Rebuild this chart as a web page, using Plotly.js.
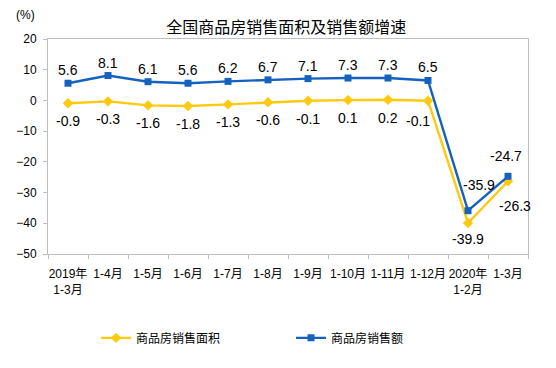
<!DOCTYPE html>
<html><head><meta charset="utf-8">
<script src="https://cdn.plot.ly/plotly-3.0.1.min.js"></script>
<style>body{margin:0;background:#fff}#c{width:556px;height:368px}</style>
</head><body><div id="c"></div>
<script>
const categories = ["2019年<br>1-3月","1-4月","1-5月","1-6月","1-7月","1-8月","1-9月","1-10月","1-11月","1-12月","2020年<br>1-2月","1-3月"];
const areaGrowth = [-0.9,-0.3,-1.6,-1.8,-1.3,-0.6,-0.1,0.1,0.2,-0.1,-39.9,-26.3];
const salesGrowth = [5.6,8.1,6.1,5.6,6.2,6.7,7.1,7.3,7.3,6.5,-35.9,-24.7];
const areaName = "商品房销售面积";
const salesName = "商品房销售额";

const font = "Liberation Sans, Noto Sans CJK SC, sans-serif";
const yellow = "#FFC90E", blue = "#1462BE";

const traces = [
 {x:categories,y:areaGrowth,name:areaName,type:"scatter",mode:"lines+markers",
  line:{color:yellow,width:2.4},marker:{symbol:"diamond",size:8,color:yellow}},
 {x:categories,y:salesGrowth,name:salesName,type:"scatter",mode:"lines+markers",
  line:{color:blue,width:2.4},marker:{symbol:"square",size:7,color:blue}}
];

// label offsets (px)
function areaShift(i){ if(i===9) return [-10,-20]; if(i===10) return [0,-16]; if(i===11) return [7,-25]; return [0,-18]; }
function salesShift(i){ if(i===10) return [11,26]; if(i===11) return [-2,20]; return [0,13]; }

const annotations = [];
areaGrowth.forEach((v,i)=>{const s=areaShift(i); annotations.push({x:categories[i],y:v,xref:"x",yref:"y",text:v.toFixed(1),showarrow:false,xanchor:"center",yanchor:"middle",xshift:s[0],yshift:s[1],font:{size:14,family:font,color:"#000"}});});
salesGrowth.forEach((v,i)=>{const s=salesShift(i); annotations.push({x:categories[i],y:v,xref:"x",yref:"y",text:v.toFixed(1),showarrow:false,xanchor:"center",yanchor:"middle",xshift:s[0],yshift:s[1],font:{size:14,family:font,color:"#000"}});});
annotations.push({text:"(%)",xref:"paper",yref:"paper",x:-0.046,y:1.11,showarrow:false,xanchor:"center",yanchor:"middle",font:{size:12,family:font}});

const layout = {
 width:556,height:368,margin:{l:48,r:28,t:39,b:114},
 paper_bgcolor:"#fff",plot_bgcolor:"#fff",
 font:{family:font,color:"#000"},
 title:{text:"全国商品房销售面积及销售额增速",font:{size:16,color:"#000",family:font},x:0.515,xanchor:"center",y:0.925,yanchor:"middle"},
 showlegend:true,
 legend:{orientation:"h",x:0.1,xanchor:"left",y:-0.39,yanchor:"middle",font:{size:12,family:font},entrywidth:150,itemwidth:30,traceorder:"normal"},
 xaxis:{type:"category",tickson:"boundaries",ticks:"outside",ticklen:4,tickcolor:"#BFBFBF",
  showline:true,linecolor:"#BFBFBF",linewidth:1,mirror:true,showgrid:false,zeroline:false,
  tickfont:{size:12,family:font},tickangle:0,range:[-0.5,11.5],ticklabelstandoff:9},
 yaxis:{range:[-50,20],dtick:10,ticks:"outside",ticklen:4,tickcolor:"#BFBFBF",
  showline:true,linecolor:"#BFBFBF",linewidth:1,mirror:true,showgrid:false,zeroline:false,
  tickfont:{size:12,family:font},ticklabelstandoff:4},
 annotations:annotations
};
Plotly.newPlot("c",traces,layout,{displayModeBar:false,staticPlot:true});
</script></body></html>
